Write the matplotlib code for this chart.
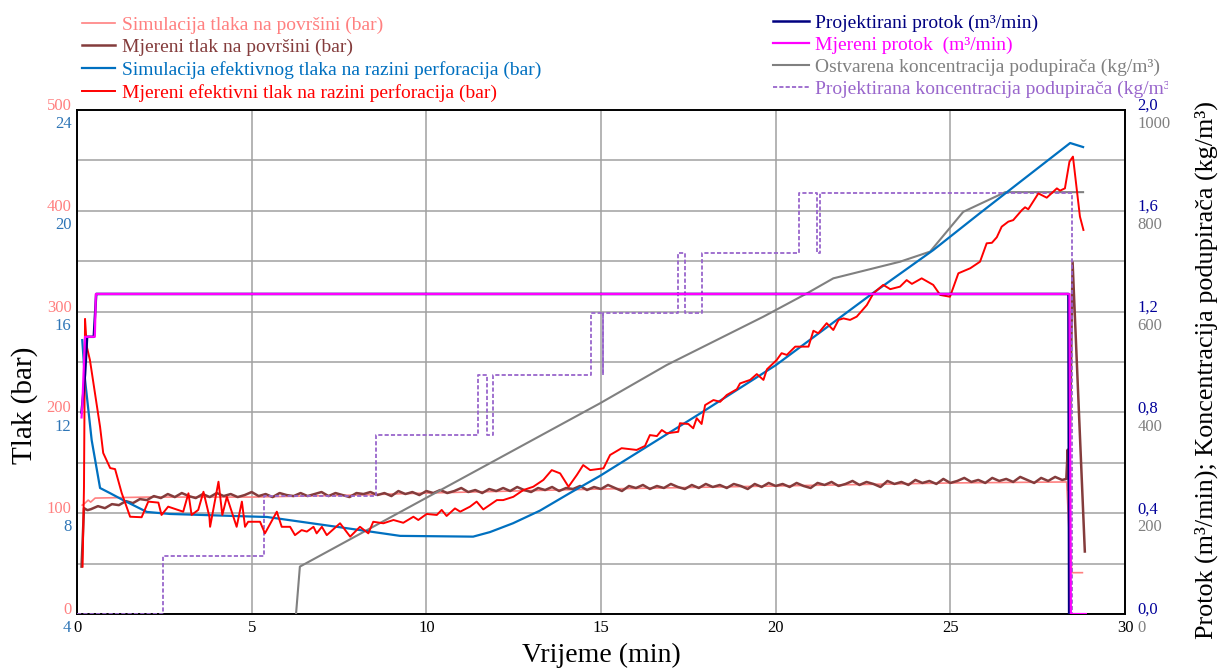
import numpy as np
import matplotlib
matplotlib.use("Agg")
import matplotlib.pyplot as plt
from matplotlib.transforms import ScaledTranslation, Bbox

plt.rcParams['font.family'] = ['Liberation Serif', 'DejaVu Serif']

# ---------------- data ----------------
# Simulated surface pressure (bar)
sim_surf_t = [0.15, 0.23, 0.32, 0.39, 0.52, 2.0, 5.0, 8.0, 10.0, 15.0, 20.0, 25.0, 28.33, 28.40, 28.48, 28.78]
sim_surf_p = [108, 110, 113, 111, 115, 116, 116, 118, 120, 124, 127, 130, 131, 80, 41, 41]

# Measured surface pressure (bar)
meas_surf_t0 = [0.13, 0.20, 0.30]
meas_surf_p0 = [47, 105, 103]
meas_surf_step = 0.2
meas_surf_p = [104, 107, 105, 109, 108, 112, 110, 114, 113, 117,
               115, 119, 116, 120, 117, 115, 119, 116, 120, 117,
               119, 116, 118, 121, 117, 119, 116, 120, 118, 117,
               120, 117, 119, 121, 117, 120, 118, 116, 120, 119,
               121, 118, 120, 117, 122, 119, 121, 118, 122, 120,
               123, 120, 122, 125, 121, 123, 120, 124, 122, 125,
               122, 126, 123, 121, 125, 123, 126, 122, 125, 124,
               127, 123, 126, 124, 128, 125, 122, 127, 125, 128,
               124, 127, 125, 129, 126, 124, 128, 125, 129, 126,
               128, 125, 129, 127, 124, 129, 126, 130, 127, 129,
               126, 130, 127, 125, 130, 128, 131, 127, 129, 132,
               128, 131, 129, 126, 132, 129, 131, 128, 133, 130,
               132, 129, 134, 130, 132, 135, 131, 133, 130, 135,
               132, 134, 131, 136, 133, 130, 135, 132, 136, 133]
meas_surf_t1 = [28.32, 28.36, 28.40, 28.50, 28.85]
meas_surf_p1 = [134, 163, 122, 349, 62]

# Simulated effective pressure at perforation level (blue scale)
sim_eff_t = [0.15, 0.23, 0.42, 0.66, 0.94, 1.32, 2.0, 2.66, 5.18, 5.44, 8.1, 9.25, 11.34,
             11.82, 12.48, 13.25, 14.11, 14.97, 17.84, 20.01, 22.79, 24.51, 25.85, 28.43, 28.8]
sim_eff_p = [14.87, 13.3, 10.9, 9.0, 8.8, 8.52, 8.05, 7.97, 7.86, 7.85, 7.33, 7.1, 7.07,
             7.25, 7.6, 8.1, 8.8, 9.48, 11.96, 13.88, 16.74, 18.44, 19.91, 22.69, 22.53]

# Measured effective pressure at perforation level (blue scale)
meas_eff_t = [0.16, 0.20, 0.23, 0.28, 0.37, 0.66, 0.75, 0.95, 1.09, 1.28, 1.52, 1.85, 2.04, 2.33,
              2.42, 2.61, 3.04, 3.19, 3.28, 3.47, 3.62, 3.79, 3.81, 4.05, 4.16, 4.29, 4.57, 4.72,
              4.81, 4.90, 5.24, 5.38, 5.72, 5.86, 6.10, 6.24, 6.43, 6.58, 6.77, 6.86, 7.01, 7.15,
              7.53, 7.82, 8.10, 8.34, 8.48, 8.77, 9.06, 9.34, 9.63, 9.77, 10.01, 10.30, 10.44,
              10.58, 10.82, 10.97, 11.25, 11.44, 11.63, 12.02, 12.20, 12.49, 12.78, 13.06, 13.35,
              13.59, 13.83, 14.07, 14.31, 14.49, 14.69, 15.07, 15.26, 15.59, 16.02, 16.26, 16.40,
              16.60, 16.74, 16.88, 17.21, 17.26, 17.50, 17.64, 17.74, 17.88, 17.98, 18.22, 18.41,
              18.60, 18.89, 18.98, 19.27, 19.46, 19.65, 19.75, 20.03, 20.17, 20.32, 20.56, 20.94,
              21.08, 21.22, 21.46, 21.65, 21.80, 21.94, 22.13, 22.32, 22.61, 22.80, 23.08, 23.28,
              23.56, 23.75, 23.90, 24.18, 24.51, 24.71, 24.99, 25.23, 25.57, 25.85, 26.04, 26.19,
              26.33, 26.47, 26.66, 26.80, 27.05, 27.14, 27.23, 27.52, 27.76, 28.05, 28.14, 28.28,
              28.41, 28.51, 28.71, 28.81]
meas_eff_p = [5.88, 9.05, 15.71, 14.61, 14.08, 11.43, 10.39, 9.79, 9.75, 8.80, 7.86, 7.84, 8.46, 8.42,
              7.93, 8.26, 8.06, 8.79, 7.93, 8.13, 8.85, 7.86, 7.46, 9.25, 7.93, 8.65, 7.46, 8.46,
              7.46, 7.66, 7.66, 7.20, 8.06, 7.46, 7.46, 7.13, 7.33, 7.27, 7.46, 7.20, 7.46, 7.13,
              7.60, 7.07, 7.46, 7.20, 7.66, 7.60, 7.73, 7.62, 7.86, 7.73, 7.97, 7.93, 8.13,
              7.89, 8.19, 8.06, 8.26, 8.46, 8.15, 8.52, 8.52, 8.65, 8.92, 9.05, 9.32,
              9.71, 9.58, 9.05, 9.52, 9.91, 9.71, 9.78, 10.31, 10.58, 10.51, 10.67, 11.10,
              11.06, 11.30, 11.17, 11.23, 11.57, 11.54, 11.37, 11.77, 11.54, 12.29, 12.49, 12.42,
              12.69, 12.92, 13.15, 13.29, 13.52, 13.29, 13.71, 14.08, 14.35, 14.28, 14.61, 14.61,
              15.24, 15.14, 15.54, 15.27, 15.67, 15.73, 15.67, 15.80, 16.26, 16.73, 17.06, 16.89,
              16.99, 17.25, 17.10, 17.32, 17.06, 16.66, 16.59, 17.52, 17.72, 17.98, 18.71, 18.73,
              18.95, 19.37, 19.57, 19.63, 20.03, 20.14, 20.06, 20.69, 20.52, 20.89, 20.80, 20.89,
              21.95, 22.15, 19.77, 19.24]

# Designed flow rate (m3/min)
proj_flow_t = [0.13, 0.23, 0.29, 0.48, 0.55, 28.38, 28.40]
proj_flow_q = [0.80, 0.95, 1.10, 1.10, 1.27, 1.27, 0.0]

# Measured flow rate (m3/min)
meas_flow_t = [0.13, 0.15, 0.23, 0.51, 0.54, 28.41, 28.45, 28.88]
meas_flow_q = [0.78, 0.82, 1.10, 1.10, 1.27, 1.27, 0.0, 0.0]

# Achieved proppant concentration (kg/m3)
conc_real_t = [6.27, 6.38, 14.97, 16.88, 19.65, 20.89, 21.65, 23.56, 24.42, 25.37, 26.57, 28.8]
conc_real_c = [0, 94, 418, 494, 590, 636, 666, 699, 719, 798, 837, 837]

# Designed proppant concentration (kg/m3)
conc_proj_t = [0, 2.45, 2.45, 5.35, 5.35, 8.56, 8.56, 11.49, 11.49, 11.73, 11.73, 11.92, 11.92,
               14.71, 14.71, 15.05, 15.05, 15.05, 17.21, 17.21, 17.41, 17.41, 17.88, 17.88,
               20.68, 20.68, 21.18, 21.18, 21.27, 21.27, 28.48, 28.48]
conc_proj_c = [0, 0, 116, 116, 234, 234, 355, 355, 474, 474, 355, 355, 474,
               474, 597, 597, 474, 597, 597, 716, 716, 597, 597, 716,
               716, 836, 836, 716, 716, 836, 836, 0]

x_ticks = [0, 5, 10, 15, 20, 25, 30]
p_ticks = [0, 100, 200, 300, 400, 500]
e_ticks = [4, 8, 12, 16, 20, 24]
q_ticks = [0.0, 0.4, 0.8, 1.2, 1.6, 2.0]
c_ticks = [0, 200, 400, 600, 800, 1000]

# ---------------- colours ----------------
C_PINK = '#FF8080'
C_BROWN = '#843C3C'
C_BLUE = '#0070C0'
C_RED = '#FF0000'
C_NAVY = '#000080'
C_MAG = '#FF00FF'
C_GRAY = '#808080'
C_PURP = '#9966CC'

W, H = 1224, 668
fig = plt.figure(figsize=(W / 100, H / 100), dpi=100)
L, R, T, B = 77, 1125, 110, 614
ax = fig.add_axes([L / W, 1 - B / H, (R - L) / W, (B - T) / H])
ax.set_xlim(0, 30)
ax.set_ylim(0, 500)
ax.set_xticks(x_ticks)
ax.set_yticks(p_ticks)
ax.set_yticks([50, 150, 250, 350, 450], minor=True)
ax.grid(True, which='major', color='#a0a0a0', lw=1.1)
ax.grid(True, which='minor', axis='y', color='#a0a0a0', lw=1.1)
ax.tick_params(which='both', length=0)
ax.tick_params(axis='x', labelsize=12, pad=4)
ax.tick_params(axis='y', labelsize=12, pad=4, labelcolor=C_PINK)
for lab in ax.get_yticklabels():
    lab.set_va('baseline')
for s in ax.spines.values():
    s.set_linewidth(1.4)
    s.set_color('black')

brown_t = meas_surf_t0 + [round(0.4 + meas_surf_step * i, 2) for i in range(len(meas_surf_p))] + meas_surf_t1
brown_p = meas_surf_p0 + meas_surf_p + meas_surf_p1

l_pink, = ax.plot(sim_surf_t, sim_surf_p, color=C_PINK, lw=1.2,
                  label='Simulacija tlaka na površini (bar)')
l_brown, = ax.plot(brown_t, brown_p, color=C_BROWN, lw=1.8,
                   label='Mjereni tlak na površini (bar)')

# concentration axis (right)
ax_c = ax.twinx()
ax_c.set_ylim(0, 1000)
ax_c.set_yticks(c_ticks)
ax_c.tick_params(length=0, labelsize=12, pad=9, labelcolor=C_GRAY)
l_gray, = ax_c.plot(conc_real_t, conc_real_c, color=C_GRAY, lw=1.5,
                    label='Ostvarena koncentracija podupirača (kg/m³)')
l_purp, = ax_c.plot(conc_proj_t, conc_proj_c, color=C_PURP, lw=1.3, dashes=(2.3, 1.2),
                    label='Projektirana koncentracija podupirača (kg/m³)')

# effective pressure axis (left)
ax_e = ax.twinx()
ax_e.set_ylim(4, 24)
ax_e.yaxis.tick_left()
ax_e.set_yticks(e_ticks)
ax_e.tick_params(length=0, labelsize=12, pad=4, labelcolor='#2E75B6')
l_blue, = ax_e.plot(sim_eff_t, sim_eff_p, color=C_BLUE, lw=1.6,
                    label='Simulacija efektivnog tlaka na razini perforacija (bar)')
l_red, = ax_e.plot(meas_eff_t, meas_eff_p, color=C_RED, lw=1.4,
                   label='Mjereni efektivni tlak na razini perforacija (bar)')

# flow axis (right)
ax_f = ax.twinx()
ax_f.set_ylim(0, 2.0)
ax_f.set_yticks(q_ticks)
ax_f.set_yticklabels([f'{v:.1f}'.replace('.', ',') for v in q_ticks])
ax_f.tick_params(length=0, labelsize=12, pad=9, labelcolor='#000099')
for lab in ax_f.get_yticklabels():
    lab.set_va('baseline')
l_navy, = ax_f.plot(proj_flow_t, proj_flow_q, color=C_NAVY, lw=1.8,
                    label='Projektirani protok (m³/min)')
l_mag, = ax_f.plot(meas_flow_t, meas_flow_q, color=C_MAG, lw=1.6,
                   label='Mjereni protok  (m³/min)')

down = ScaledTranslation(0, -4.5 / 72, fig.dpi_scale_trans)
for axx in (ax_e, ax_c):
    for lab in axx.get_yticklabels():
        lab.set_va('top')
        lab.set_transform(lab.get_transform() + down)

for axx in (ax_c, ax_e, ax_f):
    for s in axx.spines.values():
        s.set_visible(False)

# axis labels
ax.set_xlabel('Vrijeme (min)', fontsize=20)
ax.xaxis.set_label_coords(0.5, (B - 655) / (B - T))
ax.xaxis.label.set_va('center')
ax.set_ylabel('Tlak (bar)', fontsize=21)
ax.yaxis.set_label_coords((25 - L) / (R - L), (B - 405) / (B - T))
ax.yaxis.label.set_va('center')
ax_f.set_ylabel('Protok (m³/min); Koncentracija podupirača (kg/m³)', fontsize=18.8)
ax_f.yaxis.set_label_coords((1206 - L) / (R - L), (B - 370) / (B - T))
ax_f.yaxis.label.set_va('center')

# legends
fig.legend(handles=[l_pink, l_brown, l_blue, l_red], loc='upper left',
           bbox_to_anchor=(82 / W, 1 - 16 / H), frameon=False, fontsize=14,
           handlelength=1.7, handletextpad=0.36, labelspacing=0.25,
           borderpad=0, borderaxespad=0, labelcolor='linecolor')
leg2 = fig.legend(handles=[l_navy, l_mag, l_gray, l_purp], loc='upper left',
                  bbox_to_anchor=(773 / W, 1 - 14 / H), frameon=False, fontsize=14,
                  handlelength=1.85, handletextpad=0.3, labelspacing=0.22,
                  borderpad=0, borderaxespad=0, labelcolor='linecolor')
clip = Bbox.from_extents(0, 0, 1168, H)
for txt in leg2.get_texts():
    txt.set_clip_box(clip)
    txt.set_clip_on(True)

fig.savefig('out.png', dpi=100)
